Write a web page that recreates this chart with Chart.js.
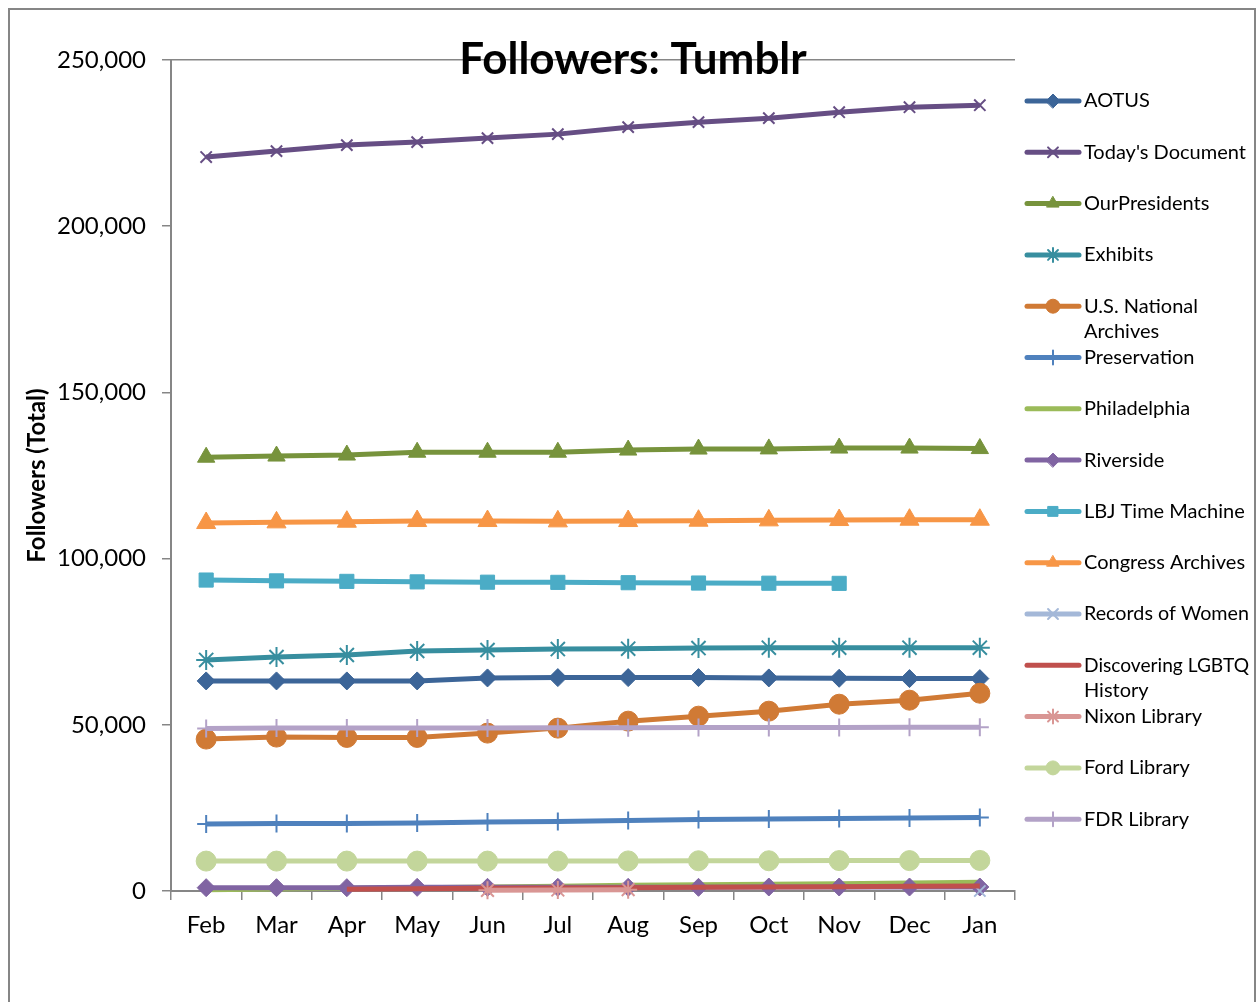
<!DOCTYPE html>
<html>
<head>
<meta charset="utf-8">
<script src="https://cdn.jsdelivr.net/npm/chart.js@4.4.0/dist/chart.umd.min.js"></script>
<style>
  html, body { margin: 0; padding: 0; background: #fff; }
  #wrap { width: 1257px; height: 1002px; }
</style>
</head>
<body>
<div id="wrap"><canvas id="followersChart" width="1257" height="1002"></canvas></div>
<script>
// Months (x axis)
const months = ['Feb', 'Mar', 'Apr', 'May', 'Jun', 'Jul', 'Aug', 'Sep', 'Oct', 'Nov', 'Dec', 'Jan'];

// Y axis ticks
const yTicks = [0, 50000, 100000, 150000, 200000, 250000];

// Series values
const aotus        = [63200, 63200, 63200, 63200, 64100, 64200, 64200, 64200, 64100, 64000, 63900, 63900];
const todaysDoc    = [220800, 222600, 224400, 225300, 226500, 227700, 229800, 231300, 232500, 234300, 235800, 236400];
const ourPresidents = [130500, 130850, 131150, 132000, 132000, 132000, 132650, 132950, 133000, 133250, 133250, 133100];
const exhibits     = [69500, 70400, 71000, 72200, 72500, 72800, 72900, 73100, 73200, 73200, 73200, 73200];
const usArchives   = [45700, 46300, 46200, 46200, 47500, 49000, 51100, 52600, 54100, 56200, 57400, 59500];
const preservation = [20150, 20300, 20300, 20450, 20750, 20900, 21200, 21500, 21650, 21800, 21950, 22100];
const philadelphia = [400, 600, 800, 1000, 1200, 1400, 1700, 1900, 2000, 2200, 2400, 2600];
const riverside    = [1000, 1000, 1000, 1100, 1100, 1100, 1100, 1100, 1200, 1200, 1200, 1200];
const lbj          = [93550, 93300, 93150, 93000, 92900, 92850, 92750, 92650, 92600, 92550, null, null];
const congress     = [110700, 110900, 111100, 111300, 111300, 111200, 111300, 111400, 111500, 111600, 111700, 111700];
const women        = [null, null, null, null, null, null, null, null, null, null, null, 0];
const lgbtq        = [null, null, 500, 700, 800, 900, 1000, 1100, 1200, 1300, 1400, 1500];
const nixon        = [null, null, null, null, 200, 300, 400, null, null, null, null, null];
const ford         = [9000, 9000, 9000, 9000, 9000, 9000, 9050, 9100, 9100, 9150, 9150, 9200];
const fdr          = [48900, 49000, 49000, 49000, 49000, 49100, 49100, 49200, 49200, 49200, 49300, 49300];

// name, data, colour, marker, marker radius
const series = [
  ['AOTUS', aotus, '#3c6598', 'rectRot', 9],
  ["Today's Document", todaysDoc, '#664e84', 'crossRot', 8],
  ['OurPresidents', ourPresidents, '#77933c', 'triangle', 10],
  ['Exhibits', exhibits, '#378e9f', 'star', 10],
  ['U.S. National Archives', usArchives, '#d07a35', 'circle', 10],
  ['Preservation', preservation, '#4f81bd', 'cross', 9],
  ['Philadelphia', philadelphia, '#9bbb59', false, 0],
  ['Riverside', riverside, '#8064a2', 'rectRot', 9],
  ['LBJ Time Machine', lbj, '#4bacc6', 'rect', 10],
  ['Congress Archives', congress, '#f79646', 'triangle', 11],
  ['Records of Women', women, '#a4b8d8', 'crossRot', 8],
  ['Discovering LGBTQ History', lgbtq, '#c0504d', false, 0],
  ['Nixon Library', nixon, '#d99694', 'star', 9],
  ['Ford Library', ford, '#c3d69b', 'circle', 10],
  ['FDR Library', fdr, '#b3a2c7', 'cross', 9]
];

const FONT = 'Lato, "Open Sans", sans-serif';
const crossStyles = ['crossRot', 'cross', 'star'];

const datasets = series.map(([name, data, color, marker, r], i) => ({
  label: name,
  data: data,
  borderColor: color,
  backgroundColor: color,
  borderWidth: 5,
  pointStyle: marker,
  pointRadius: marker ? r : 0,
  pointBorderWidth: crossStyles.includes(marker) ? 2 : 1,
  pointBackgroundColor: color,
  pointBorderColor: color,
  tension: 0,
  clip: false,
  order: series.length - i, // later series on top, like the original
  spanGaps: false
}));

// Frame, title and right-hand legend
const decorations = {
  id: 'decorations',
  beforeDraw(chart) {
    const ctx = chart.ctx;
    ctx.save();
    ctx.fillStyle = '#fff';
    ctx.fillRect(0, 0, chart.width, chart.height);
    ctx.strokeStyle = '#868686';
    ctx.lineWidth = 2;
    ctx.strokeRect(9, 9, 1246, 1010);
    ctx.restore();
  },
  afterDraw(chart) {
    const ctx = chart.ctx;
    ctx.save();
    ctx.fillStyle = '#000';
    ctx.font = 'bold 44px ' + FONT;
    ctx.textAlign = 'center';
    ctx.textBaseline = 'middle';
    ctx.fillText('Followers: Tumblr', 633, 60);

    // legend
    ctx.font = '20px ' + FONT;
    ctx.textAlign = 'left';
    const maxW = 185;
    chart.data.datasets.forEach((ds, i) => {
      const y = 101 + i * 51.3;
      ctx.strokeStyle = ds.borderColor;
      ctx.lineWidth = 5;
      ctx.lineCap = 'round';
      ctx.beginPath();
      ctx.moveTo(1027, y);
      ctx.lineTo(1079, y);
      ctx.stroke();
      if (ds.pointStyle) {
        ctx.fillStyle = ds.borderColor;
        ctx.lineWidth = ds.pointBorderWidth;
        Chart.helpers.drawPoint(ctx, {
          pointStyle: ds.pointStyle, radius: Math.min(ds.pointRadius, 7),
          rotation: 0, borderWidth: ds.pointBorderWidth
        }, 1053, y);
      }
      // wrap long names onto two lines
      const words = ds.label.split(' ');
      const lines = [];
      let cur = '';
      words.forEach(w => {
        const test = cur ? cur + ' ' + w : w;
        if (ctx.measureText(test).width > maxW && cur) { lines.push(cur); cur = w; }
        else cur = test;
      });
      lines.push(cur);
      ctx.fillStyle = '#000';
      lines.forEach((t, k) => ctx.fillText(t, 1084, y + k * 25.7, 165));
    });
    ctx.restore();
  }
};

new Chart(document.getElementById('followersChart').getContext('2d'), {
  type: 'line',
  data: { labels: months, datasets: datasets },
  options: {
    responsive: false,
    animation: false,
    events: [],
    layout: { padding: { left: 0, top: 60, right: 242, bottom: 0 } },
    plugins: { legend: { display: false }, title: { display: false }, tooltip: { enabled: false } },
    scales: {
      x: {
        offset: true,
        grid: { offset: true, drawOnChartArea: false, drawTicks: true, tickLength: 9, color: '#868686', lineWidth: 1.5 },
        border: { color: '#868686', width: 2 },
        ticks: { color: '#000', font: { family: FONT, size: 24 }, padding: 11 },
        afterFit(scale) { scale.height = 111; }
      },
      y: {
        min: 0,
        max: 250000,
        afterBuildTicks(scale) { scale.ticks = yTicks.map(v => ({ value: v })); },
        grid: {
          color: ctx => ctx.tick && ctx.tick.value === 250000 ? '#868686' : 'rgba(0,0,0,0)',
          tickColor: '#868686',
          tickLength: 9,
          lineWidth: 1.5
        },
        border: { color: '#868686', width: 2 },
        ticks: {
          color: '#000',
          font: { family: FONT, size: 24 },
          padding: 16,
          callback: v => v.toLocaleString('en-US')
        },
        title: {
          display: true,
          text: 'Followers (Total)',
          color: '#000',
          font: { family: FONT, size: 24, weight: 'bold' },
          padding: { top: 23, bottom: 0 }
        },
        afterFit(scale) { scale.width = 171; }
      }
    }
  },
  plugins: [decorations]
});
</script>
</body>
</html>
